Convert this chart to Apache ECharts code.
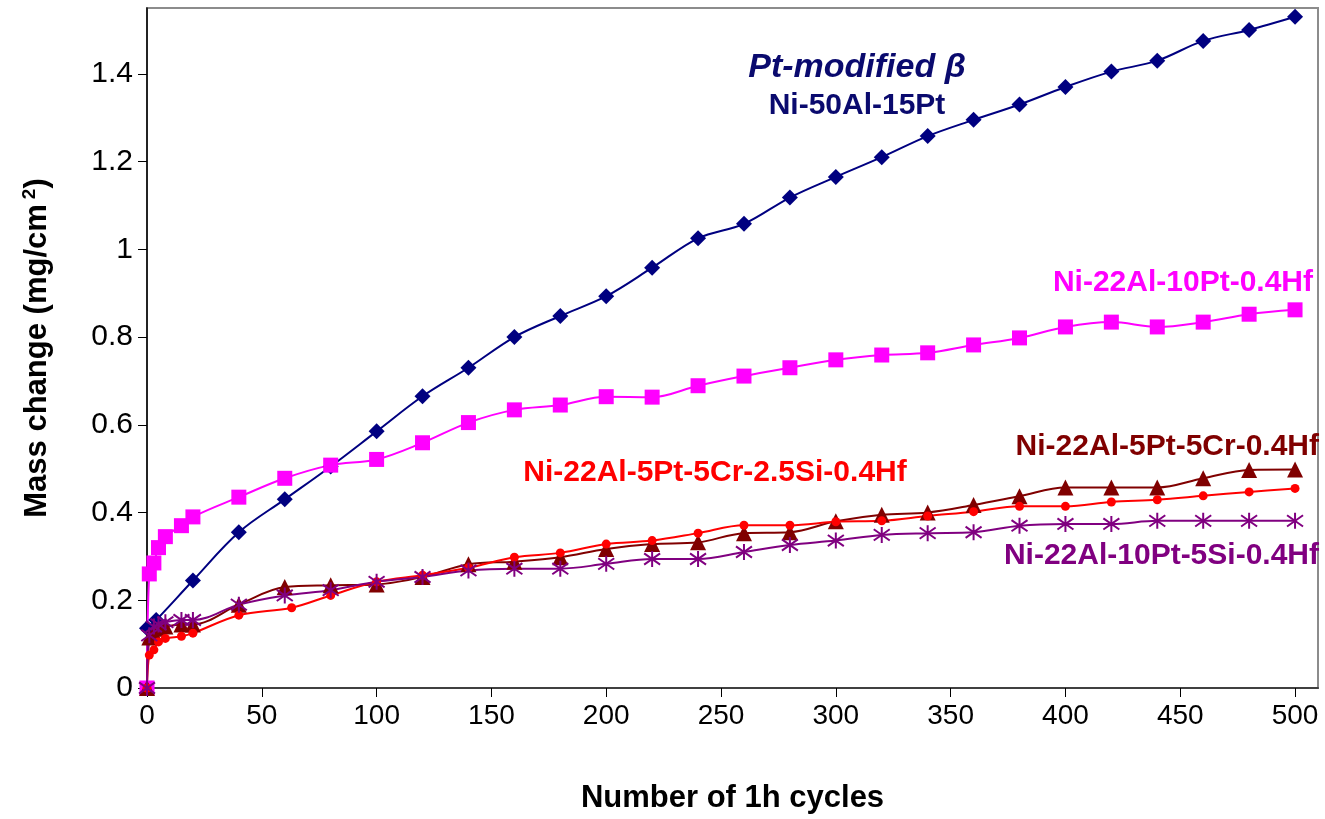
<!DOCTYPE html>
<html>
<head>
<meta charset="utf-8">
<script src="https://cdn.jsdelivr.net/npm/echarts@6/dist/echarts.min.js"></script>
<style>
  html, body { margin: 0; padding: 0; background: #fff; }
  #chart { width: 1325px; height: 819px; }
</style>
</head>
<body>
<div id="chart"></div>
<script>
// ---- data ----
const xTicks = [0, 50, 100, 150, 200, 250, 300, 350, 400, 450, 500];
const yTicks = [0, 0.2, 0.4, 0.6, 0.8, 1, 1.2, 1.4];

const cyclesLong = [20, 40, 60, 80, 100, 120, 140, 160, 180, 200, 220, 240, 260, 280, 300, 320, 340, 360, 380, 400, 420, 440, 460, 480, 500];

const blueX = [0, 4].concat(cyclesLong);
const blueY = [0.136, 0.155, 0.245, 0.355, 0.43, 0.505, 0.585, 0.665, 0.73, 0.80, 0.848, 0.893, 0.958, 1.025, 1.058, 1.118, 1.165, 1.21, 1.258, 1.295, 1.33, 1.37, 1.405, 1.43, 1.475, 1.50, 1.53];

const magentaX = [0, 1, 3, 5, 8, 15].concat(cyclesLong);
const magentaY = [0, 0.26, 0.285, 0.32, 0.345, 0.37, 0.39, 0.435, 0.478, 0.508, 0.521, 0.559, 0.605, 0.634, 0.645, 0.664, 0.663, 0.689, 0.711, 0.73, 0.748, 0.759, 0.764, 0.782, 0.798, 0.823, 0.834, 0.823, 0.834, 0.852, 0.862];

const redX = [0, 1, 3, 5, 8, 15, 20, 40, 63, 80, 100, 120, 140, 160, 180, 200, 220, 240, 260, 280, 300, 320, 340, 360, 380, 400, 420, 440, 460, 480, 500];
const redY = [0, 0.075, 0.087, 0.105, 0.113, 0.118, 0.125, 0.166, 0.183, 0.211, 0.242, 0.257, 0.274, 0.298, 0.308, 0.328, 0.336, 0.353, 0.371, 0.371, 0.379, 0.381, 0.392, 0.402, 0.414, 0.414, 0.424, 0.429, 0.438, 0.447, 0.455];

const darkRedX = [0, 1, 3, 5, 8, 15].concat(cyclesLong);
const darkRedY = [0, 0.115, 0.125, 0.135, 0.14, 0.145, 0.145, 0.19, 0.23, 0.234, 0.236, 0.253, 0.282, 0.288, 0.298, 0.317, 0.328, 0.332, 0.353, 0.355, 0.38, 0.395, 0.40, 0.417, 0.437, 0.457, 0.457, 0.457, 0.478, 0.497, 0.498];

const purpleX = [0, 1, 3, 5, 8, 15].concat(cyclesLong);
const purpleY = [0, 0.12, 0.14, 0.145, 0.15, 0.155, 0.155, 0.19, 0.211, 0.223, 0.242, 0.253, 0.268, 0.272, 0.272, 0.283, 0.294, 0.294, 0.31, 0.326, 0.336, 0.349, 0.353, 0.355, 0.37, 0.374, 0.374, 0.381, 0.381, 0.381, 0.381];

const seriesNames = ['Ni-50Al-15Pt', 'Ni-22Al-10Pt-0.4Hf', 'Ni-22Al-5Pt-5Cr-0.4Hf', 'Ni-22Al-5Pt-5Cr-2.5Si-0.4Hf', 'Ni-22Al-10Pt-5Si-0.4Hf'];

// ---- chart ----
function zip(xs, ys) { return xs.map((x, i) => [x, ys[i]]); }

const FONT = '"Liberation Sans", Arial, sans-serif';
const chart = echarts.init(document.getElementById('chart'), null, { renderer: 'canvas' });

const starPath = 'path://M10,0 L10,20 M1,3 L19,17 M1,17 L19,3';

function lineSeries(name, data, color, symbol, size, extra) {
  return Object.assign({
    name: name,
    type: 'line',
    data: data,
    smooth: 0.35,
    symbol: symbol,
    symbolSize: size,
    showAllSymbol: true,
    lineStyle: { color: color, width: 2 },
    itemStyle: { color: color },
    emphasis: { disabled: true },
    animation: false
  }, extra || {});
}

const labelStyle = { fontFamily: FONT, fontWeight: 'bold', fontSize: 30 };

chart.setOption({
  backgroundColor: '#fff',
  animation: false,
  grid: {
    left: 147, right: 7, top: 8, bottom: 129,
    show: true, borderColor: '#8c8c8c', borderWidth: 2, backgroundColor: '#fff'
  },
  xAxis: {
    type: 'value', min: 0, max: 510, interval: 50,
    name: 'Number of 1h cycles', nameLocation: 'middle', nameGap: 95,
    nameTextStyle: { fontFamily: FONT, fontWeight: 'bold', fontSize: 31, color: '#000' },
    axisLine: { show: true, onZero: false, lineStyle: { color: '#404040', width: 2 } },
    axisTick: { show: true, inside: false, length: 9, lineStyle: { color: '#000', width: 1 }, customValues: xTicks },
    axisLabel: { fontFamily: FONT, fontSize: 28, color: '#000', margin: 14, customValues: xTicks,
      formatter: v => (xTicks.indexOf(v) >= 0 ? String(v) : '') },
    splitLine: { show: false }
  },
  yAxis: {
    type: 'value', min: 0, max: 1.55, interval: 0.2,
    name: '{a|Mass change (mg/cm}{s|2}{a|)}', nameLocation: 'middle', nameGap: 92, nameRotate: 90,
    nameTextStyle: {
      rich: {
        a: { fontFamily: FONT, fontWeight: 'bold', fontSize: 31, color: '#000' },
        s: { fontFamily: FONT, fontWeight: 'bold', fontSize: 19, color: '#000', verticalAlign: 'top', padding: [0, 0, 16, 5] }
      }
    },
    axisLine: { show: true, onZero: false, lineStyle: { color: '#000', width: 1.5 } },
    axisTick: { show: true, inside: false, length: 9, lineStyle: { color: '#000', width: 1 }, customValues: yTicks },
    axisLabel: { fontFamily: FONT, fontSize: 30, color: '#000', margin: 14, customValues: yTicks,
      formatter: v => (yTicks.some(t => Math.abs(t - v) < 1e-9) ? String(Math.round(v * 10) / 10) : '') },
    splitLine: { show: false }
  },
  series: [
    lineSeries(seriesNames[0], zip(blueX, blueY), '#000080', 'diamond', 16),
    lineSeries(seriesNames[1], zip(magentaX, magentaY), '#ff00ff', 'rect', 15),
    lineSeries(seriesNames[2], zip(darkRedX, darkRedY), '#800000', 'triangle', 16),
    lineSeries(seriesNames[3], zip(redX, redY), '#ff0000', 'circle', 9),
    lineSeries(seriesNames[4], zip(purpleX, purpleY), '#800080', starPath, 16, {
      itemStyle: { color: 'rgba(0,0,0,0)', borderColor: '#800080', borderWidth: 2 }
    })
  ],
  graphic: [
    { type: 'text', x: 857, y: 68, z: 100, style: Object.assign({ text: 'Pt-modified β', fill: '#0a0a6e', align: 'center', verticalAlign: 'middle', textAlign: 'center', textVerticalAlign: 'middle' }, labelStyle, { fontStyle: 'italic', fontSize: 34 }) },
    { type: 'text', x: 857, y: 106, z: 100, style: Object.assign({ text: seriesNames[0], fill: '#0a0a6e', align: 'center', verticalAlign: 'middle', textAlign: 'center', textVerticalAlign: 'middle' }, labelStyle) },
    { type: 'text', x: 1313, y: 283, z: 100, style: Object.assign({ text: seriesNames[1], fill: '#ff00ff', align: 'right', verticalAlign: 'middle', textAlign: 'right', textVerticalAlign: 'middle' }, labelStyle) },
    { type: 'text', x: 1319, y: 447, z: 100, style: Object.assign({ text: seriesNames[2], fill: '#800000', align: 'right', verticalAlign: 'middle', textAlign: 'right', textVerticalAlign: 'middle' }, labelStyle) },
    { type: 'text', x: 715, y: 473, z: 100, style: Object.assign({ text: seriesNames[3], fill: '#ff0000', align: 'center', verticalAlign: 'middle', textAlign: 'center', textVerticalAlign: 'middle' }, labelStyle) },
    { type: 'text', x: 1319, y: 556, z: 100, style: Object.assign({ text: seriesNames[4], fill: '#800080', align: 'right', verticalAlign: 'middle', textAlign: 'right', textVerticalAlign: 'middle' }, labelStyle) }
  ]
});
</script>
</body>
</html>
